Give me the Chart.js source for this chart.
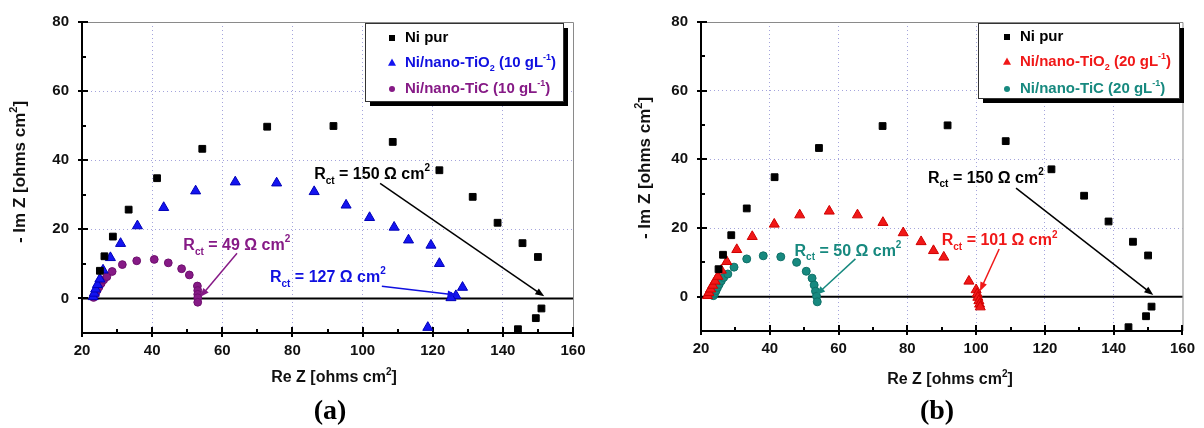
<!DOCTYPE html>
<html>
<head>
<meta charset="utf-8">
<script src="https://cdn.jsdelivr.net/npm/chart.js@4.4.1/dist/chart.umd.min.js"></script>
<style>
  html, body { margin: 0; padding: 0; background: #fff; }
  #wrap { position: relative; width: 1204px; height: 428px; overflow: hidden; }
  .panel { position: absolute; top: 0; width: 602px; height: 428px; }
</style>
</head>
<body>
<div id="wrap">
  <div class="panel" style="left:0"><canvas id="chartA" width="602" height="428"></canvas></div>
  <div class="panel" style="left:602px"><canvas id="chartB" width="602" height="428"></canvas></div>
</div>
<script>
// Nyquist data, [Re Z, -Im Z] in ohms cm2
const niPur = [[25.1, 8.0], [26.4, 12.2], [28.8, 17.9], [33.3, 25.7], [41.4, 34.8], [54.3, 43.3],
  [72.8, 49.7], [91.7, 49.9], [108.6, 45.3], [121.9, 37.1], [131.4, 29.4], [138.5, 21.9],
  [145.6, 16.0], [150.0, 12.0], [151.0, -2.9], [149.4, -5.7], [144.3, -8.9]];

const tio2_10 = [[23.2, 0.5], [23.5, 1.5], [23.9, 2.7], [24.4, 4.0], [25.1, 5.6], [26.0, 8.2],
  [28.1, 11.8], [31.0, 15.9], [35.8, 21.0], [43.3, 26.3], [52.4, 31.1], [63.7, 33.7], [75.5, 33.4],
  [86.2, 30.9], [95.3, 27.0], [102.0, 23.4], [109.0, 20.6], [113.1, 16.9], [119.5, 15.4],
  [121.9, 10.1], [128.5, 3.2], [126.6, 0.8], [125.2, 0.2], [118.6, -8.4]];

const tic_10 = [[23.3, 0.3], [23.6, 0.9], [24.0, 1.7], [24.4, 2.5], [24.9, 3.4], [25.5, 4.4],
  [26.2, 5.4], [27.1, 6.3], [28.6, 7.8], [31.5, 9.8], [35.6, 10.9], [40.6, 11.3], [44.6, 10.3],
  [48.4, 8.6], [50.6, 6.8], [52.9, 3.6], [53.0, 2.3], [53.0, 1.2], [53.0, 0.2], [53.0, -1.1]];

const tio2_20 = [[21.9, 0.3], [22.3, 1.2], [22.8, 2.2], [23.4, 3.3], [24.1, 4.5], [24.9, 5.9],
  [25.9, 7.7], [27.5, 10.2], [30.4, 13.7], [34.9, 17.5], [41.3, 21.1], [48.7, 23.8], [57.3, 24.9],
  [65.5, 23.8], [72.9, 21.6], [78.8, 18.6], [84.0, 16.0], [87.6, 13.4], [90.6, 11.5], [97.9, 4.5],
  [100.0, 2.0], [100.3, 0.8], [100.5, -0.2], [100.8, -1.2], [101.0, -2.2], [101.2, -3.0]];

const tic_20 = [[23.6, 0.3], [24.0, 1.0], [24.4, 1.8], [24.8, 2.7], [25.3, 3.6], [25.9, 4.6],
  [26.6, 5.6], [27.8, 6.6], [29.6, 8.6], [33.3, 11.0], [38.1, 11.9], [43.2, 11.6], [47.8, 10.0],
  [50.6, 7.4], [52.3, 5.4], [52.9, 3.4], [53.3, 1.6], [53.6, 0.1], [53.8, -1.5]];

// axis ranges and labelled ticks
const xRange = [20, 160];
const yRange = [-10, 80];
const xLabelTicks = [20, 40, 60, 80, 100, 120, 140, 160];
const yLabelTicks = [0, 20, 40, 60, 80];

const SANS = '"Liberation Sans", Arial, sans-serif';
const SERIF = '"Liberation Serif", "Times New Roman", serif';

// text with _{sub} and ^{sup} parts
function richText(ctx, str, x, y, size, color, align, family) {
  const parts = str.split(/([_^]\{[^}]*\})/).filter(Boolean).map(p => {
    const m = p.match(/^([_^])\{(.*)\}$/);
    return m ? { t: m[2], mode: m[1] } : { t: p, mode: '' };
  });
  const fontOf = p => `bold ${p.mode ? Math.round(size * 0.62) : size}px ${family || SANS}`;
  let w = 0;
  parts.forEach(p => { ctx.font = fontOf(p); p.w = ctx.measureText(p.t).width; w += p.w; });
  let cx = align === 'center' ? x - w / 2 : x;
  ctx.fillStyle = color;
  ctx.textAlign = 'left';
  ctx.textBaseline = 'middle';
  parts.forEach(p => {
    ctx.font = fontOf(p);
    const dy = p.mode === '_' ? size * 0.4 : p.mode === '^' ? -size * 0.38 : 0;
    ctx.fillText(p.t, cx, y + dy);
    cx += p.w;
  });
}

function drawMarker(ctx, style, x, y, r, color) {
  ctx.fillStyle = color;
  ctx.beginPath();
  if (style === 'rect') ctx.rect(x - r, y - r, 2 * r, 2 * r);
  else if (style === 'triangle') { ctx.moveTo(x, y - r * 1.1); ctx.lineTo(x + r, y + r * 0.7); ctx.lineTo(x - r, y + r * 0.7); ctx.closePath(); }
  else ctx.arc(x, y, r, 0, Math.PI * 2);
  ctx.fill();
}

const nyquistPlugin = {
  id: 'nyquist',
  beforeDatasetsDraw(chart, args, opts) {
    const { ctx, chartArea: a, scales: { x, y } } = chart;
    ctx.save();
    // frame top / right
    ctx.strokeStyle = '#8a8a8a';
    ctx.lineWidth = 1;
    ctx.beginPath();
    ctx.moveTo(a.left, a.top + 0.5); ctx.lineTo(a.right + 0.5, a.top + 0.5); ctx.lineTo(a.right + 0.5, a.bottom);
    ctx.stroke();
    // zero line
    const y0 = y.getPixelForValue(0);
    ctx.strokeStyle = '#000';
    ctx.lineWidth = 2;
    ctx.beginPath(); ctx.moveTo(a.left, y0); ctx.lineTo(a.right, y0); ctx.stroke();
    // ticks: major cross the axis, minor point inward
    ctx.lineWidth = 2;
    for (let v = xRange[0]; v <= xRange[1]; v += 10) {
      const px = Math.round(x.getPixelForValue(v));
      const major = v % 20 === 0;
      ctx.beginPath();
      ctx.moveTo(px, a.bottom + (major ? 4 : 0)); ctx.lineTo(px, a.bottom - (major ? 6 : 4));
      ctx.stroke();
    }
    for (let v = yRange[0]; v <= yRange[1]; v += 10) {
      const py = Math.round(y.getPixelForValue(v));
      const major = v % 20 === 0;
      ctx.beginPath();
      ctx.moveTo(a.left - (major ? 4 : 0), py); ctx.lineTo(a.left + (major ? 6 : 4), py);
      ctx.stroke();
    }
    ctx.restore();
  },
  afterDraw(chart, args, opts) {
    const { ctx, scales: { x, y } } = chart;
    ctx.save();
    // annotations with arrows
    opts.notes.forEach(n => {
      const x1 = x.getPixelForValue(n.from[0]), y1 = y.getPixelForValue(n.from[1]);
      const x2 = x.getPixelForValue(n.to[0]), y2 = y.getPixelForValue(n.to[1]);
      const ang = Math.atan2(y2 - y1, x2 - x1);
      ctx.strokeStyle = n.color;
      ctx.fillStyle = n.color;
      ctx.lineWidth = 1.5;
      ctx.beginPath(); ctx.moveTo(x1, y1); ctx.lineTo(x2 - 7 * Math.cos(ang), y2 - 7 * Math.sin(ang)); ctx.stroke();
      ctx.beginPath();
      ctx.moveTo(x2, y2);
      ctx.lineTo(x2 - 9 * Math.cos(ang) + 3.5 * Math.sin(ang), y2 - 9 * Math.sin(ang) - 3.5 * Math.cos(ang));
      ctx.lineTo(x2 - 9 * Math.cos(ang) - 3.5 * Math.sin(ang), y2 - 9 * Math.sin(ang) + 3.5 * Math.cos(ang));
      ctx.closePath(); ctx.fill();
      richText(ctx, n.text, x.getPixelForValue(n.x), y.getPixelForValue(n.y), 16, n.color, 'left');
    });
    // legend box with shadow
    const L = opts.legend;
    ctx.fillStyle = '#000';
    ctx.fillRect(L.left + 5, L.top + 5, L.right - L.left, L.bottom - L.top);
    ctx.fillStyle = '#fff';
    ctx.fillRect(L.left, L.top, L.right - L.left, L.bottom - L.top);
    ctx.strokeStyle = '#333';
    ctx.lineWidth = 1;
    ctx.strokeRect(L.left + 0.5, L.top + 0.5, L.right - L.left, L.bottom - L.top);
    chart.data.datasets.forEach((ds, i) => {
      const ry = L.top + L.rows[i];
      drawMarker(ctx, ds.pointStyle, L.left + L.markerDx, ry, ds.pointStyle === 'triangle' ? 4 : 3, ds.backgroundColor);
      richText(ctx, opts.richLabels[i], L.left + L.textDx, ry, 15, ds.legendColor, 'left');
    });
    // axis titles and panel label
    richText(ctx, 'Re Z [ohms cm^{2}]', opts.xTitle[0], opts.xTitle[1], 16, '#111', 'center');
    ctx.save();
    ctx.translate(opts.yTitle[0], opts.yTitle[1]);
    ctx.rotate(-Math.PI / 2);
    richText(ctx, '- Im Z [ohms cm^{2}]', 0, 0, 17, '#111', 'center');
    ctx.restore();
    richText(ctx, opts.panel[0], opts.panel[1], opts.panel[2], 28, '#000', 'center', SERIF);
    ctx.restore();
  }
};

function gridColor(value, lo, hi) {
  return value % 20 === 0 && value > lo && value < hi && value !== 0 ? '#a4a4dc' : 'rgba(0,0,0,0)';
}

function makeChart(id, cfg) {
  const toPts = arr => arr.map(([x, y]) => ({ x, y }));
  const W = 602, H = 428, A = cfg.area;
  return new Chart(document.getElementById(id), {
    type: 'scatter',
    data: {
      datasets: cfg.series.map(s => ({
        label: s.label,
        data: toPts(s.data),
        pointStyle: s.style,
        pointRadius: s.r,
        pointHoverRadius: s.r,
        backgroundColor: s.color,
        borderColor: s.edge,
        borderWidth: 1,
        legendColor: s.text
      }))
    },
    options: {
      responsive: false,
      animation: false,
      events: [],
      layout: { padding: { left: 0, top: A.top, right: W - A.right, bottom: 0 } },
      plugins: {
        legend: { display: false },
        tooltip: { enabled: false },
        nyquist: cfg.deco
      },
      scales: {
        x: {
          type: 'linear', min: xRange[0], max: xRange[1],
          afterFit: s => { s.height = H - A.bottom; },
          ticks: {
            stepSize: 10, autoSkip: false, maxRotation: 0, padding: 9, color: '#111',
            font: { family: SANS, weight: 'bold', size: 15 },
            callback: v => xLabelTicks.includes(v) ? v : ''
          },
          grid: { drawTicks: false, lineWidth: 1, color: c => gridColor(c.tick ? c.tick.value : 0, xRange[0], xRange[1]) },
          border: { color: '#000', width: 2, dash: [1, 3] }
        },
        y: {
          type: 'linear', min: yRange[0], max: yRange[1],
          afterFit: s => { s.width = A.left; },
          ticks: {
            stepSize: 10, autoSkip: false, padding: 13, color: '#111',
            font: { family: SANS, weight: 'bold', size: 15 },
            callback: v => yLabelTicks.includes(v) ? v : ''
          },
          grid: { drawTicks: false, lineWidth: 1, color: c => gridColor(c.tick ? c.tick.value : 0, yRange[0], yRange[1]) },
          border: { color: '#000', width: 2, dash: [1, 3] }
        }
      }
    },
    plugins: [nyquistPlugin]
  });
}

makeChart('chartA', {
  area: { left: 82, right: 573, top: 18, bottom: 333 },
  series: [
    { label: 'Ni pur', data: niPur, style: 'rect', r: 4.8, color: '#000', edge: '#000', text: '#000' },
    { label: 'Ni/nano-TiO2 (10 gL-1)', data: tio2_10, style: 'triangle', r: 5.8, color: '#1414f0', edge: '#0000b8', text: '#1010e0' },
    { label: 'Ni/nano-TiC (10 gL-1)', data: tic_10, style: 'circle', r: 3.9, color: '#861a86', edge: '#6e0f6e', text: '#861a86' }
  ],
  deco: {
    richLabels: ['Ni pur', 'Ni/nano-TiO_{2} (10 gL^{-1})', 'Ni/nano-TiC (10 gL^{-1})'],
    legend: { left: 365, top: 23, right: 563, bottom: 101, markerDx: 27, textDx: 40, rows: [15, 40, 66] },
    notes: [
      { text: 'R_{ct} = 150 Ω cm^{2}', x: 86.2, y: 35.8, color: '#000', from: [105.0, 33.3], to: [151.8, 0.6] },
      { text: 'R_{ct} = 49 Ω cm^{2}', x: 48.9, y: 15.3, color: '#861a86', from: [64.2, 13.1], to: [53.7, 0.4] },
      { text: 'R_{ct} = 127 Ω cm^{2}', x: 73.6, y: 6.1, color: '#1010e0', from: [105.5, 3.5], to: [126.8, 1.0] }
    ],
    xTitle: [334, 378], yTitle: [20, 172], panel: ['(a)', 330, 412]
  }
});

makeChart('chartB', {
  area: { left: 99, right: 586, top: 17, bottom: 331 },
  series: [
    { label: 'Ni pur', data: niPur, style: 'rect', r: 4.8, color: '#000', edge: '#000', text: '#000' },
    { label: 'Ni/nano-TiO2 (20 gL-1)', data: tio2_20, style: 'triangle', r: 5.8, color: '#f01818', edge: '#d00000', text: '#f01818' },
    { label: 'Ni/nano-TiC (20 gL-1)', data: tic_20, style: 'circle', r: 4, color: '#17897f', edge: '#0f7068', text: '#17897f' }
  ],
  deco: {
    richLabels: ['Ni pur', 'Ni/nano-TiO_{2} (20 gL^{-1})', 'Ni/nano-TiC (20 gL^{-1})'],
    legend: { left: 376, top: 23, right: 577, bottom: 98, markerDx: 29, textDx: 42, rows: [14, 39, 66] },
    notes: [
      { text: 'R_{ct} = 150 Ω cm^{2}', x: 86.0, y: 34.5, color: '#000', from: [111.6, 31.6], to: [151.5, 0.5] },
      { text: 'R_{ct} = 50 Ω cm^{2}', x: 47.2, y: 13.2, color: '#17897f', from: [64.9, 11.0], to: [53.5, 0.5] },
      { text: 'R_{ct} = 101 Ω cm^{2}', x: 90.0, y: 16.2, color: '#f01818', from: [106.7, 13.9], to: [101.1, 1.6] }
    ],
    xTitle: [348, 380], yTitle: [43, 168], panel: ['(b)', 335, 412]
  }
});
</script>
</body>
</html>
